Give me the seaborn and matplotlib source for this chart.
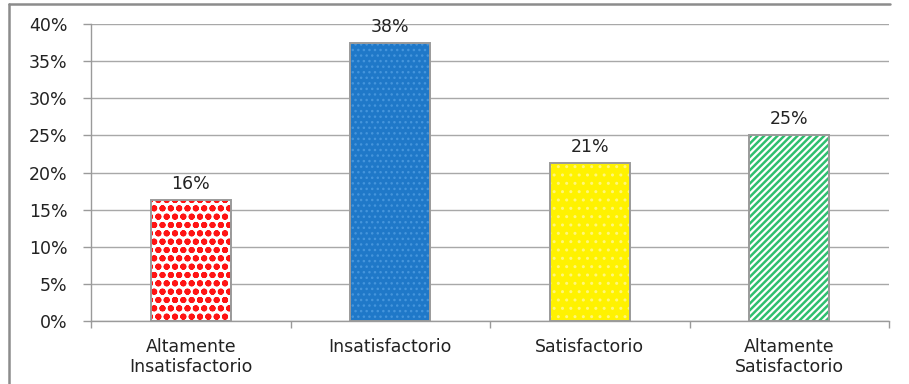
import matplotlib
matplotlib.use("Agg")
import matplotlib.pyplot as plt
from matplotlib.lines import Line2D
from matplotlib.patches import Rectangle
from matplotlib.ticker import FixedLocator, PercentFormatter
import seaborn as sns
import pandas as pd

categories = ["Altamente\nInsatisfactorio", "Insatisfactorio", "Satisfactorio", "Altamente\nSatisfactorio"]
values = [16.25, 37.5, 21.25, 25.0]
y_ticks = [0, 5, 10, 15, 20, 25, 30, 35, 40]

face_colors = ["white", "#1f78c8", "#fff200", "white"]
hatch_colors = ["#ff1414", "#4595dc", "#fff67a", "#2fbf6f"]
hatches = ["oo", "...", "..", "/////"]
hatch_widths = [2.0, 1.0, 1.0, 1.8]

sns.set_theme(style="white")
plt.rcParams["font.family"] = ["DejaVu Sans"]

df = pd.DataFrame({"cat": categories, "val": values})

fig = plt.figure(figsize=(9.09, 3.84), dpi=100)
ax = fig.add_axes([91 / 909, 1 - 321 / 384, 798 / 909, 297 / 384])

sns.barplot(data=df, x="cat", y="val", hue="cat", palette=face_colors,
            width=0.4, saturation=1, legend=False, ax=ax, zorder=3)

bars = list(ax.patches[:4])
for i, patch in enumerate(bars):
    # hatch takes the edge colour, so the outline is drawn separately
    patch.set_hatch(hatches[i])
    patch.set_edgecolor(hatch_colors[i])
    patch.set_linewidth(0)
    patch._hatch_linewidth = hatch_widths[i]
    ax.add_patch(Rectangle(patch.get_xy(), patch.get_width(), patch.get_height(),
                           facecolor="none", edgecolor="#9a9a9a", linewidth=1.4, zorder=4))

for container in ax.containers:
    ax.bar_label(container, labels=[f"{v:.0f}%" for v in container.datavalues],
                 padding=5, fontsize=12.5, color="#222222")

ax.set_ylim(0, 40)
ax.set_xlim(-0.5, 3.5)
ax.yaxis.set_major_locator(FixedLocator(y_ticks))
ax.yaxis.set_major_formatter(PercentFormatter(decimals=0))
ax.grid(axis="y", color="#a8a8a8", linewidth=1, zorder=0)
ax.set_axisbelow(True)
ax.set_xlabel("")
ax.set_ylabel("")

for side in ["top", "right"]:
    ax.spines[side].set_visible(False)
for side in ["left", "bottom"]:
    ax.spines[side].set_color("#9a9a9a")
    ax.spines[side].set_linewidth(1)

ax.tick_params(axis="y", which="major", left=True, length=6, width=1, color="#9a9a9a",
               labelsize=12.5, labelcolor="#222222", pad=11)
ax.tick_params(axis="x", which="major", bottom=False, labelsize=12.5,
               labelcolor="#222222", pad=6)
ax.xaxis.set_minor_locator(FixedLocator([-0.5, 0.5, 1.5, 2.5, 3.5]))
ax.tick_params(axis="x", which="minor", bottom=True, length=5, width=1, color="#9a9a9a")

# outer frame of the chart area
fig.add_artist(Line2D([9 / 909, 9 / 909], [0, 1 - 4 / 384], transform=fig.transFigure,
                      color="#8c8c8c", linewidth=1.8))
fig.add_artist(Line2D([9 / 909, 890 / 909], [1 - 4 / 384, 1 - 4 / 384], transform=fig.transFigure,
                      color="#8c8c8c", linewidth=1.8))

fig.savefig("out.png", dpi=100)
